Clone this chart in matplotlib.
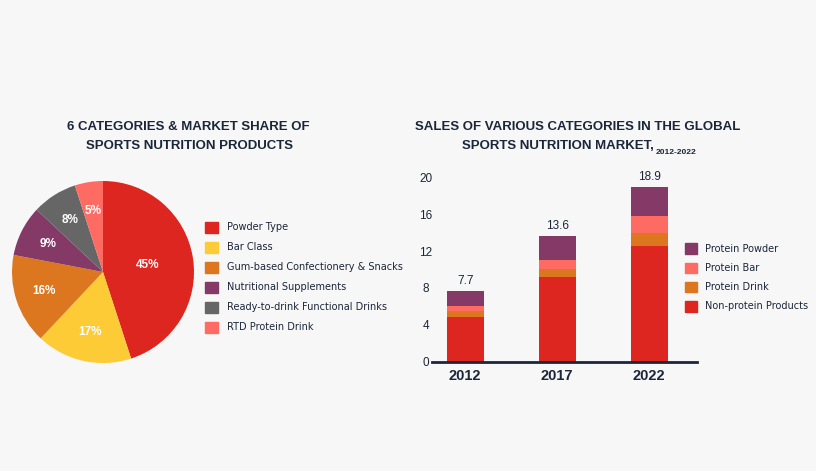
import matplotlib.pyplot as plt
import numpy as np

# pie data
pie_labels = ["Powder Type", "Bar Class", "Gum-based Confectionery & Snacks",
              "Nutritional Supplements", "Ready-to-drink Functional Drinks", "RTD Protein Drink"]
pie_shares = [45, 17, 16, 9, 8, 5]
pie_colors = ["#dc261f", "#fdcb35", "#dc771f", "#853966", "#666666", "#fe6b63"]

# stacked bar data
years = ["2012", "2017", "2022"]
totals = [7.7, 13.6, 18.9]
non_protein = [4.9, 9.2, 12.6]
protein_drink = [0.6, 0.85, 1.4]
protein_bar = [0.5, 1.0, 1.85]
protein_powder = [1.7, 2.55, 3.05]
series_names = ["Non-protein Products", "Protein Drink", "Protein Bar", "Protein Powder"]
series_colors = ["#dc261f", "#dc771f", "#fe6b63", "#853966"]

W, H = 816, 471
bg = "#f7f7f7"
dark = "#1b2638"
arial = "Liberation Sans"

fig = plt.figure(figsize=(W / 100, H / 100), dpi=100, facecolor=bg)

def px_axes(x0, y0, x1, y1):
    # pixel box (top-left origin) -> figure axes
    return fig.add_axes([x0 / W, 1 - y1 / H, (x1 - x0) / W, (y1 - y0) / H])

def px_rect(x0, y0, w, h, col):
    fig.patches.append(plt.Rectangle((x0 / W, 1 - (y0 + h) / H), w / W, h / H,
                                     transform=fig.transFigure, color=col))

# ---- pie ----
ax1 = px_axes(12, 181, 194, 363)
ax1.set_facecolor(bg)
wedges, texts, autotexts = ax1.pie(pie_shares, colors=pie_colors, startangle=90, counterclock=False,
                                   autopct="%d%%", pctdistance=0.68, radius=1,
                                   textprops=dict(color="white", fontsize=8.5, fontweight="bold",
                                                  family=arial))
# biggest slice label sits nearer the centre
w = wedges[0]
mid = np.deg2rad((w.theta1 + w.theta2) / 2)
autotexts[0].set_position((0.5 * np.cos(mid), 0.5 * np.sin(mid)))
ax1.set_xlim(-1, 1)
ax1.set_ylim(-1, 1)
ax1.set_aspect("equal")

fig.text(188 / W, 1 - 127 / H, "6 CATEGORIES & MARKET SHARE OF", ha="center", va="center",
         fontsize=9.5, fontweight="bold", color=dark, family=arial)
fig.text(189 / W, 1 - 146 / H, "SPORTS NUTRITION PRODUCTS", ha="center", va="center",
         fontsize=9.5, fontweight="bold", color=dark, family=arial)

for i, (lab, col) in enumerate(zip(pie_labels, pie_colors)):
    yc = 227.5 + i * 20
    px_rect(205, yc - 5.2, 12.7, 10.4, col)
    fig.text(227 / W, 1 - yc / H, lab, ha="left", va="center", fontsize=7, color=dark)

# ---- stacked bars ----
ax2 = px_axes(432, 177.3, 697, 361.7)
ax2.set_facecolor(bg)
x = np.arange(len(years))
stack = [non_protein, protein_drink, protein_bar, protein_powder]
bottom = np.zeros(len(years))
for vals, col in zip(stack, series_colors):
    ax2.bar(x, vals, 0.4, bottom=bottom, color=col)
    bottom += np.array(vals)
for xi, t in zip(x, totals):
    ax2.text(xi, t + 0.45, f"{t}", ha="center", va="bottom", fontsize=8.5, color=dark,
             family=arial, clip_on=False)

ax2.set_xlim(-0.36, 2.52)
ax2.set_ylim(0, 20)
ax2.set_yticks([0, 4, 8, 12, 16, 20])
ax2.set_xticks(x)
ax2.set_xticklabels(years, fontsize=10.5, fontweight="bold", color=dark, family=arial)
ax2.tick_params(axis="both", length=0, colors=dark)
ax2.tick_params(axis="x", pad=5)
ax2.tick_params(axis="y", labelsize=8.5, pad=4.5)
for lbl in ax2.get_yticklabels():
    lbl.set_horizontalalignment("center")
    lbl.set_family(arial)
for s in ["top", "right", "left"]:
    ax2.spines[s].set_visible(False)
ax2.spines["bottom"].set_color(dark)
ax2.spines["bottom"].set_linewidth(2)

fig.text(578 / W, 1 - 127 / H, "SALES OF VARIOUS CATEGORIES IN THE GLOBAL", ha="center", va="center",
         fontsize=9.5, fontweight="bold", color=dark, family=arial)
fig.text(654 / W, 1 - 146 / H, "SPORTS NUTRITION MARKET,", ha="right", va="center",
         fontsize=9.5, fontweight="bold", color=dark, family=arial)
fig.text(656 / W, 1 - 152.5 / H, "2012-2022", ha="left", va="center",
         fontsize=6, fontweight="bold", color=dark, family=arial)

leg_order = [3, 2, 1, 0]
for j, k in enumerate(leg_order):
    yc = 248.5 + j * 19.3
    px_rect(685, yc - 5.3, 12.3, 10.6, series_colors[k])
    fig.text(705 / W, 1 - yc / H, series_names[k], ha="left", va="center", fontsize=7, color=dark)

fig.savefig("out.png", dpi=100, facecolor=bg)
